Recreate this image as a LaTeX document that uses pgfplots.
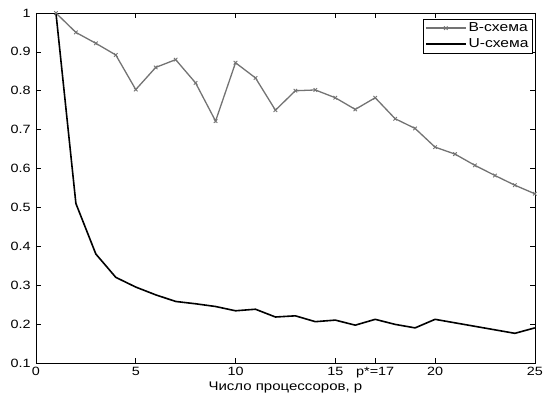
\documentclass[border=0pt]{standalone}
\usepackage{fontspec}
\setmainfont{Liberation Sans}[FakeStretch=1.2]
\usepackage{pgfplots}
\pgfplotsset{compat=1.18}
\begin{document}
\fontsize{12.5pt}{14pt}\selectfont
\begin{tikzpicture}
\begin{axis}[
  name=main,
  scale only axis,
  width=499pt, height=350pt,
  xmin=0, xmax=25, ymin=0.1, ymax=1,
  xtick={0,5,10,15,17,20,25},
  xticklabels={0,5,10,15,p*=17,20,25},
  ytick={0.1,0.2,0.3,0.4,0.5,0.6,0.7,0.8,0.9,1},
  yticklabels={0.1,0.2,0.3,0.4,0.5,0.6,0.7,0.8,0.9,1},
  tick align=inside,
  major tick length=5pt,
  tick style={black, line width=0.6pt},
  axis line style={line width=0.6pt},
  /pgf/number format/assume math mode=true,
  ticklabel style={font=\fontsize{12pt}{14pt}\selectfont},
  yticklabel style={xshift=-1pt},
  xlabel={Число процессоров, p},
  xlabel style={yshift=5pt, font=\fontsize{12.5pt}{14pt}\selectfont},
  legend style={at={(0.995,0.983)}, anchor=north east, draw=black, line width=0.6pt,
    font=\fontsize{13pt}{15pt}\selectfont, inner sep=1.5pt, row sep=1pt},
  legend cell align=left,
  legend image code/.code={\draw[#1] (0pt,0pt) -- (40pt,0pt) plot coordinates {(20pt,0pt)};},
]
\addplot[color=black!55, line width=1.3pt, mark=x, mark size=2.5pt, mark options={line width=0.9pt}]
  coordinates {(1,1.0) (2,0.95) (3,0.922) (4,0.892) (5,0.803) (6,0.86) (7,0.88) (8,0.82) (9,0.722) (10,0.872)
   (11,0.833) (12,0.75) (13,0.80) (14,0.802) (15,0.782) (16,0.752) (17,0.782) (18,0.728) (19,0.703)
   (20,0.655) (21,0.637) (22,0.608) (23,0.582) (24,0.557) (25,0.535)};
\addplot[color=black, line width=1.6pt, no marks]
  coordinates {(1,1.0) (2,0.51) (3,0.38) (4,0.32) (5,0.295) (6,0.275) (7,0.258) (8,0.252) (9,0.245) (10,0.234)
   (11,0.238) (12,0.218) (13,0.221) (14,0.206) (15,0.21) (16,0.197) (17,0.212) (18,0.199) (19,0.19)
   (20,0.212) (21,0.203) (22,0.194) (23,0.185) (24,0.176) (25,0.19)};
\legend{B-схема, U-схема}
\end{axis}
\useasboundingbox ([xshift=-36pt,yshift=-42pt]main.south west) rectangle ([xshift=12pt,yshift=13pt]main.north east);
\end{tikzpicture}
\end{document}
